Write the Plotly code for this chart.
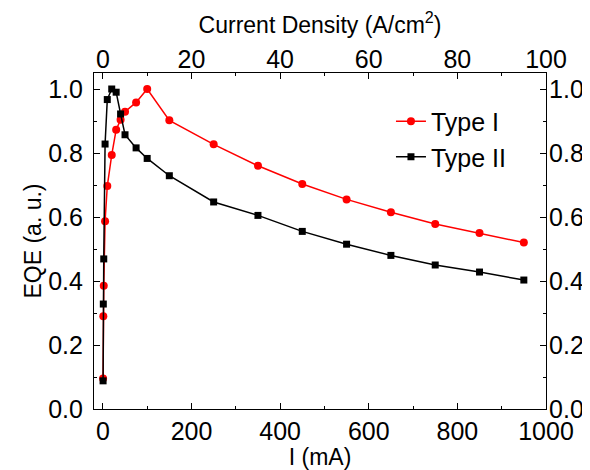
import plotly.graph_objects as go

# Type I (red circles)
current_type1 = [0.5, 1, 2, 5, 10, 20, 30, 40, 50, 75, 100, 150, 250, 350, 450, 550, 650, 750, 850, 950]
eqe_type1 = [0.095, 0.29, 0.385, 0.587, 0.697, 0.794, 0.873, 0.904, 0.929, 0.958, 1.0, 0.902,
             0.827, 0.76, 0.703, 0.655, 0.615, 0.578, 0.55, 0.52]

# Type II (black squares)
current_type2 = [0.5, 1, 2, 5, 10, 20, 30, 40, 50, 75, 100, 150, 250, 350, 450, 550, 650, 750, 850, 950]
eqe_type2 = [0.088, 0.328, 0.469, 0.828, 0.967, 1.0, 0.99, 0.922, 0.857, 0.816, 0.783, 0.729,
             0.647, 0.605, 0.555, 0.515, 0.48, 0.45, 0.428, 0.403]

FONT = "Liberation Sans, Arial, sans-serif"
TICK_SIZE = 25
TITLE_SIZE = 23

fig = go.Figure()
fig.add_trace(go.Scatter(
    x=current_type1, y=eqe_type1, name="Type I", mode="lines+markers",
    line=dict(color="#ff0000", width=1.5),
    marker=dict(symbol="circle", size=8, color="#ff0000"),
))
fig.add_trace(go.Scatter(
    x=current_type2, y=eqe_type2, name="Type II", mode="lines+markers",
    line=dict(color="#000000", width=1.5),
    marker=dict(symbol="square", size=7, color="#000000"),
))
# invisible traces to activate the secondary axes
fig.add_trace(go.Scatter(x=[None], y=[None], xaxis="x2", showlegend=False, hoverinfo="skip"))
fig.add_trace(go.Scatter(x=[None], y=[None], yaxis="y2", showlegend=False, hoverinfo="skip"))

axis_common = dict(
    showline=True, linecolor="black", linewidth=1.2,
    ticks="inside", ticklen=6, tickwidth=1.2, tickcolor="black",
    showgrid=False, zeroline=False, automargin=False,
    tickfont=dict(family=FONT, size=TICK_SIZE, color="black"),
)
minor_common = dict(ticks="inside", ticklen=3, tickcolor="black", tickwidth=1.2, tick0=0)

# page body has an 8px margin, so the figure is sized/offset to compensate
fig.update_layout(
    width=582, height=462,
    paper_bgcolor="white", plot_bgcolor="white",
    margin=dict(l=86, r=44, t=65, b=61),
    font=dict(family=FONT, size=TICK_SIZE, color="black"),
    xaxis=dict(
        range=[-20, 1000], dtick=200, tick0=0,
        minor=dict(dtick=100, **minor_common),
        title=dict(text="I (mA)", font=dict(family=FONT, size=TITLE_SIZE), standoff=0),
        **axis_common,
    ),
    xaxis2=dict(
        range=[-2, 100], dtick=20, tick0=0, overlaying="x", side="top",
        ticklabelstandoff=-6,
        minor=dict(dtick=10, **minor_common),
        title=dict(text="Current Density (A/cm<sup>2</sup>)", font=dict(family=FONT, size=TITLE_SIZE), standoff=33),
        **axis_common,
    ),
    yaxis=dict(
        range=[0, 1.05], dtick=0.2, tick0=0, tickformat=".1f", ticklabelstandoff=5,
        minor=dict(dtick=0.1, **minor_common),
        title=dict(text="EQE (a. u.)", font=dict(family=FONT, size=TITLE_SIZE), standoff=0),
        **axis_common,
    ),
    yaxis2=dict(
        range=[0, 1.05], dtick=0.2, tick0=0, tickformat=".1f", overlaying="y", side="right",
        ticklabelstandoff=-3,
        minor=dict(dtick=0.1, **minor_common),
        **axis_common,
    ),
    legend=dict(
        x=0.657, y=0.924, xanchor="left", yanchor="top",
        bgcolor="rgba(0,0,0,0)", borderwidth=0,
        font=dict(family=FONT, size=TICK_SIZE, color="black"),
        tracegroupgap=0,
    ),
    showlegend=True,
)

fig.write_html("out.html")
